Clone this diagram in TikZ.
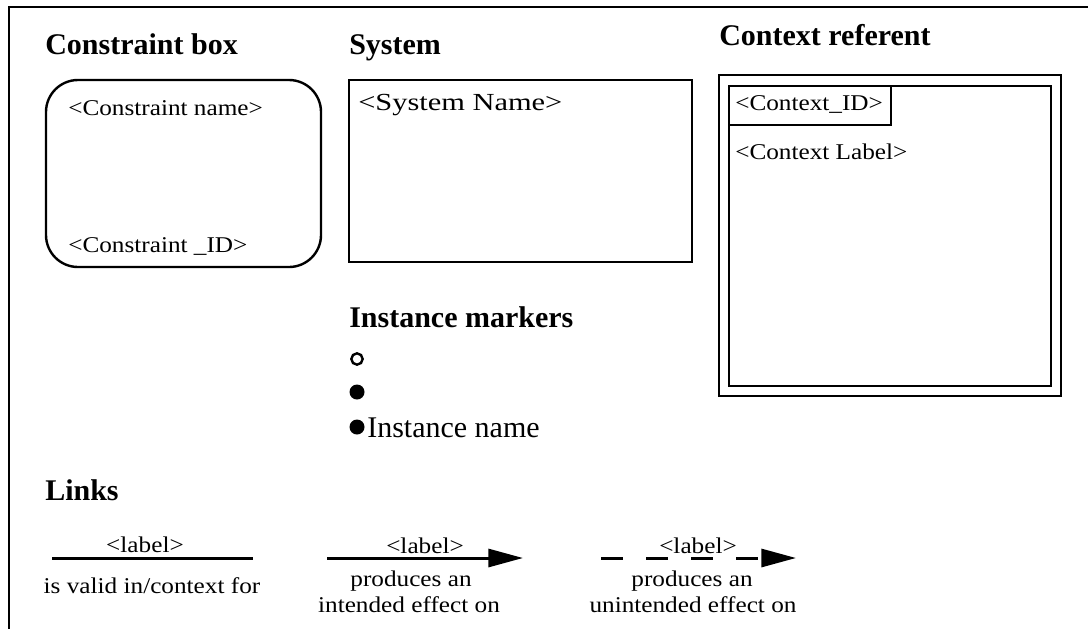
\documentclass[tikz,border=0pt]{standalone}
\usepackage{fontspec}
\setmainfont{Liberation Serif}
\newfontfamily\regfont[FakeStretch=1.12]{Liberation Serif}
\newfontfamily\sysfont[FakeStretch=1.24]{Liberation Serif}
\usetikzlibrary{arrows.meta}
\begin{document}
\begin{tikzpicture}[x=0.75pt,y=-0.75pt,
  heading/.style={anchor=base west,inner sep=0pt,font=\bfseries\fontsize{22.5pt}{24pt}\selectfont},
  txt/.style={anchor=base west,inner sep=0pt,font=\regfont\fontsize{16.9pt}{18pt}\selectfont},
  systxt/.style={anchor=base west,inner sep=0pt,font=\sysfont\fontsize{18.4pt}{20pt}\selectfont},
  bigtxt/.style={anchor=base west,inner sep=0pt,font=\fontsize{22.5pt}{24pt}\selectfont},
  ctxt/.style={anchor=base,inner sep=0pt,font=\regfont\fontsize{16.9pt}{18pt}\selectfont},
  frameline/.style={line width=2.2pt},
  boxshape/.style={draw,line width=1.8pt,anchor=north west,inner sep=0pt,outer sep=0pt},
  link/.style={line width=2.25pt},
  tipped/.style={-{Triangle[length=26pt,width=13.5pt]}},
  openmark/.style={circle,draw,line width=1.8pt,minimum size=8.5pt,inner sep=0pt},
  fullmark/.style={circle,fill,minimum size=11.25pt,inner sep=0pt}]
\useasboundingbox (0,0) rectangle (1088,628);
\fill[white] (0,0) rectangle (1088,628);
% frame
\coordinate (fbl) at (9,640);
\coordinate (ftl) at (9,7);
\coordinate (ftr) at (1100,7);
\draw[frameline] (fbl) -- (ftl) -- (ftr);
% headings
\node[heading] (hcb) at (45,54) {Constraint box};
\node[heading] (hsys) at (349,54) {System};
\node[heading] (hctx) at (719,45) {Context referent};
\node[heading] (him) at (349,327) {Instance markers};
\node[heading] (hl) at (45,500) {Links};
% constraint box
\node[boxshape,rounded corners=24pt,minimum width=206.25pt,minimum height=140.25pt] (cbox) at (46,80) {};
\node[txt] (cname) at (68,115) {<Constraint name>};
\node[txt] (cid) at (68,252) {<Constraint \_ID>};
% system box
\node[boxshape,minimum width=257.25pt,minimum height=136.5pt] (sbox) at (349,80) {};
\node[systxt] (sname) at (358,110) {<System Name>};
% context referent
\node[boxshape,minimum width=256.5pt,minimum height=240.75pt] (ctxout) at (719,75) {};
\node[boxshape,line width=2.1pt,minimum width=241.5pt,minimum height=225pt] (ctxin) at (729,86) {};
\node[boxshape,minimum width=121.5pt,minimum height=29.25pt] (ctxidbox) at (729,86) {};
\node[txt] (ctxid) at (735,110) {<Context\_ID>};
\node[txt] (ctxlab) at (735,159) {<Context Label>};
% instance markers
\node[openmark] (m1) at (357,359) {};
\node[fullmark] (m2) at (357,392) {};
\node[fullmark] (m3) at (357,427) {};
\node[bigtxt] (iname) at (367,437) {Instance name};
% links
\coordinate (l1a) at (52,558);
\coordinate (l1b) at (253,558);
\draw[link] (l1a) -- (l1b);
\node[ctxt] (l1lab) at (145,552) {<label>};
\node[ctxt] (l1txt) at (152,593) {is valid in/context for};
\coordinate (l2a) at (327,558);
\coordinate (l2b) at (523,558);
\draw[link,tipped] (l2a) -- (l2b);
\node[ctxt] (l2lab) at (425,553) {<label>};
\node[ctxt] (l2txt) at (411,586) {produces an};
\node[ctxt] (l2txtb) at (409,612) {intended effect on};
\coordinate (l3a) at (601,558);
\coordinate (l3b) at (796,558);
\draw[link,tipped,dash pattern=on 16.5pt off 17.25pt] (l3a) -- (l3b);
\node[ctxt] (l3lab) at (698,553) {<label>};
\node[ctxt] (l3txt) at (692,586) {produces an};
\node[ctxt] (l3txtb) at (693,612) {unintended effect on};
\end{tikzpicture}
\end{document}
